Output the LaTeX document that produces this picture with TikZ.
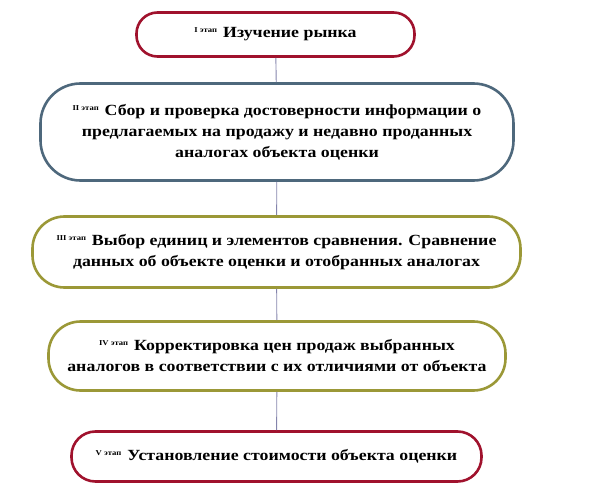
\documentclass[tikz,border=0pt]{standalone}
\usepackage{fontspec}
\setmainfont[FakeStretch=1.15]{Liberation Serif}
\usepackage{xcolor}
\usepackage{tikz}

\definecolor{stagered}{RGB}{160,18,45}
\definecolor{stageslate}{RGB}{78,104,124}
\definecolor{stageolive}{RGB}{155,152,55}
\definecolor{linkgray}{RGB}{132,132,172}

\newcommand{\etap}[1]{\raisebox{5pt}{\fontsize{7.5}{7.5}\selectfont #1 этап}\hspace{6pt}}

\begin{document}
\begin{tikzpicture}[x=1pt,y=1pt,
    stagebox/.style={rectangle, draw, line width=2.6pt, fill=white, align=center, inner sep=0pt,
      font=\bfseries\fontsize{15.5}{21}\selectfont},
    link/.style={draw=linkgray, line width=0.9pt}]

    \useasboundingbox (0,0) rectangle (592,-492);

    % Stages
    \node[stagebox, draw=stagered, rounded corners=21pt, minimum width=278pt, minimum height=44pt] (st1) at (275.5,-34.5)
      {\etap{I}Изучение рынка};
    \node[stagebox, draw=stageslate, rounded corners=40pt, minimum width=473pt, minimum height=97pt] (st2) at (277,-132)
      {\etap{II}Сбор и проверка достоверности информации о\\предлагаемых на продажу и недавно проданных\\аналогах объекта оценки};
    \node[stagebox, draw=stageolive, rounded corners=32pt, minimum width=488pt, minimum height=71pt] (st3) at (276.5,-252)
      {\etap{III}Выбор единиц и элементов сравнения. Сравнение\\данных об объекте оценки и отобранных аналогах};
    \node[stagebox, draw=stageolive, rounded corners=32pt, minimum width=457pt, minimum height=69pt] (st4) at (277,-356)
      {\etap{IV}Корректировка цен продаж выбранных\\аналогов в соответствии с их отличиями от объекта};
    \node[stagebox, draw=stagered, rounded corners=24pt, minimum width=410pt, minimum height=50pt] (st5) at (276.5,-456.5)
      {\etap{V}Установление стоимости объекта оценки};

    % Links
    \path[link] (st1) -- (st2);
    \path[link] (st2) -- (st3);
    \path[link] (st3) -- (st4);
    \path[link] (st4) -- (st5);
\end{tikzpicture}
\end{document}
